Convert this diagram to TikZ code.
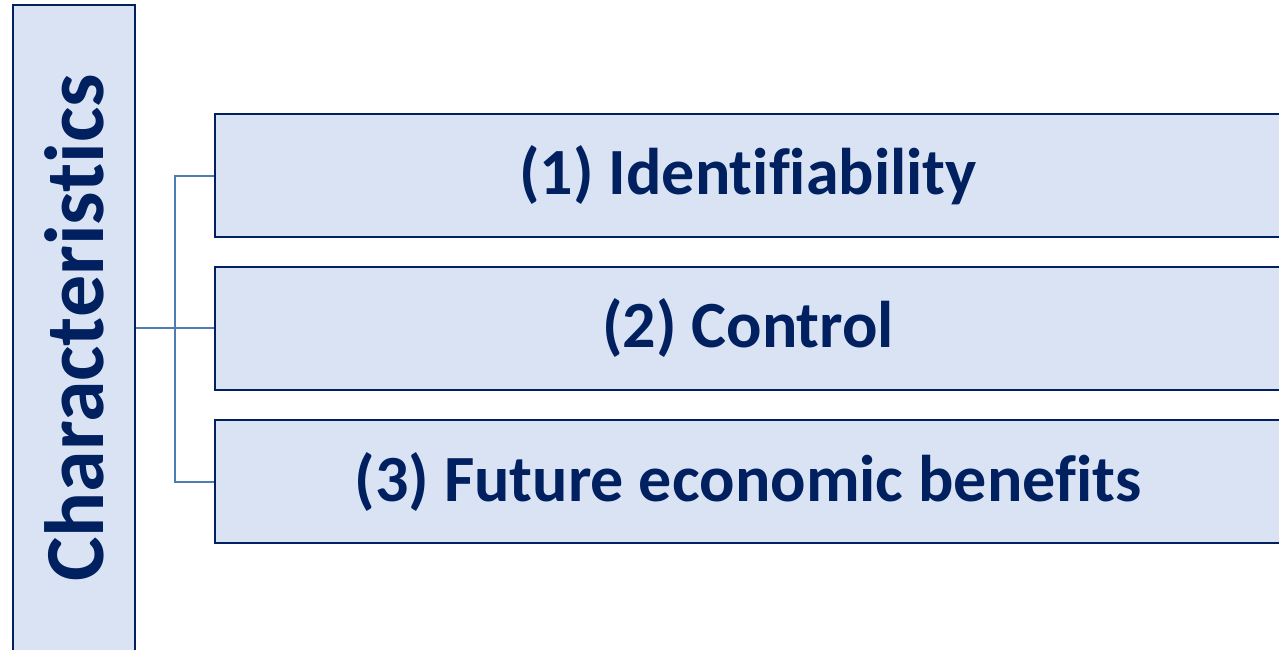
\documentclass[tikz,border=0pt]{standalone}
\usepackage{fontspec}
\setmainfont[Ligatures=NoCommon]{Carlito}
\usepackage{tikz}
\usetikzlibrary{positioning}
\definecolor{boxfill}{HTML}{DAE3F3}
\definecolor{navy}{HTML}{002060}
\definecolor{steel}{HTML}{4F7DB3}

\begin{document}
\begin{tikzpicture}[x=1pt,y=-1pt,
    itembox/.style={draw=navy, line width=2pt, fill=boxfill, text=navy,
        font=\fontsize{66}{78}\selectfont\bfseries,
        minimum width=1066pt, minimum height=123pt, inner sep=0pt},
    headbox/.style={itembox, rotate=90, font=\fontsize{84}{96}\selectfont\bfseries,
        minimum width=646pt, minimum height=122pt},
    link/.style={draw=steel, line width=2pt}]
    \useasboundingbox (0,0) rectangle (1279,649);
    \clip (0,0) rectangle (1279,649);
    % left heading
    \node[headbox] (chars) at (74,328) {Characteristics};
    % the three items
    \node[itembox] (ident) at (748,175.5) {(1) Identifiability};
    \node[itembox] (ctrl) at (748,328) {(2) Control};
    \node[itembox] (ben) at (748,481.5) {(3) Future economic benefits};
    \coordinate (fork) at (175,328);
    \draw[link] (chars.south) -- (ctrl.west);
    \draw[link] (ident.west) -| (fork) |- (ben.west);
\end{tikzpicture}
\end{document}
